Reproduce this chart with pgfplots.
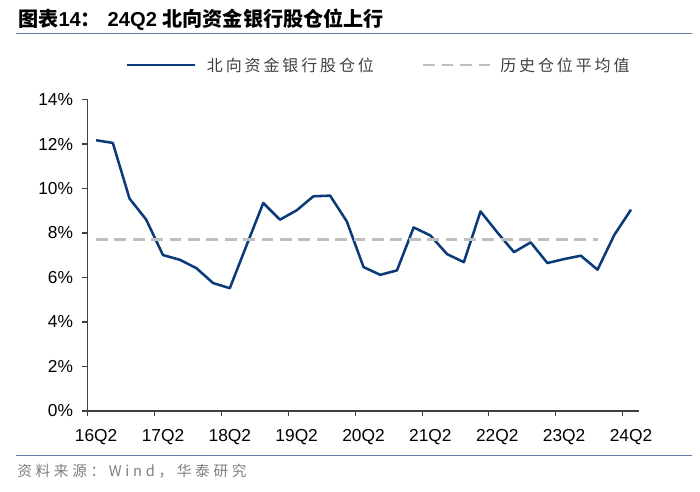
\documentclass[border=0pt]{standalone}
\usepackage{pgfplots}
\pgfplotsset{compat=1.18}
\usepackage{fontspec}
\setmainfont{Liberation Sans}
\newfontfamily\cjk{Noto Sans CJK SC}
\newfontfamily\cjkb{Noto Sans CJK SC Bold}
\newfontfamily\cjksp[LetterSpace=18]{Noto Sans CJK SC}
\newfontfamily\cjksrc[LetterSpace=25]{Noto Sans CJK SC}

\definecolor{navy}{HTML}{0B3A78}
\definecolor{avggray}{HTML}{BFBFBF}
\definecolor{axisgray}{HTML}{404040}
\definecolor{rulecol}{HTML}{5B7BA8}
\definecolor{srcgray}{HTML}{7F7F7F}

\begin{document}
\begin{tikzpicture}[x=1pt,y=1pt]
\path[use as bounding box] (0,0) rectangle (525,369);

% title
\node[anchor=west, inner sep=0] at (13.5,354)
  {\fontsize{15.1}{17}\selectfont\bfseries{\cjkb 图表}14{\cjkb ：}\hspace{5pt}24Q2 {\cjkb 北向资金银行股仓位上行}};
\draw[rulecol, line width=0.8pt] (12,344) -- (519,344);

% legend
\draw[navy, line width=1.9pt] (95,320.25) -- (146.25,320.25);
\node[anchor=west, inner sep=0, text=axisgray] at (155,320.25)
  {\fontsize{12}{14}\selectfont\cjksp 北向资金银行股仓位};
\draw[avggray, line width=1.9pt, dash pattern=on 8.8pt off 5pt] (317.5,320.25) -- (369,320.25);
\node[anchor=west, inner sep=0, text=axisgray] at (375,320.25)
  {\fontsize{12}{14}\selectfont\cjksp 历史仓位平均值};

\begin{axis}[
    at={(65.8pt,60.75pt)}, anchor=south west,
    scale only axis,
    width=413.7pt, height=233.6pt,
    xmin=-0.5, xmax=32.5,
    ymin=0, ymax=14,
    axis x line=bottom, axis y line=left,
    axis line style={-, draw=axisgray, line width=0.8pt},
    tick align=outside,
    major tick length=4pt,
    tick style={draw=axisgray, line width=0.8pt},
    xtick={-0.5,3.5,7.5,11.5,15.5,19.5,23.5,27.5,31.5},
    xticklabels={16Q2,17Q2,18Q2,19Q2,20Q2,21Q2,22Q2,23Q2,24Q2},
    xticklabel style={xshift=6.28pt, yshift=-6.5pt},
    ytick={0,2,4,6,8,10,12,14},
    yticklabels={0\%,2\%,4\%,6\%,8\%,10\%,12\%,14\%},
    yticklabel style={xshift=-3.5pt},
    ticklabel style={font=\fontsize{13}{15}\selectfont, text=black},
    clip=false,
]
\addplot[navy, line width=1.9pt, line join=round] coordinates {
(0,12.17)(1,12.05)(2,9.55)(3,8.60)(4,7.01)(5,6.80)(6,6.42)(7,5.75)(8,5.52)
(9,7.44)(10,9.35)(11,8.60)(12,9.02)(13,9.65)(14,9.68)(15,8.52)(16,6.47)
(17,6.12)(18,6.32)(19,8.25)(20,7.89)(21,7.05)(22,6.69)(23,8.97)(24,8.03)
(25,7.14)(26,7.58)(27,6.65)(28,6.83)(29,6.98)(30,6.35)(31,7.91)(32,9.05)
};
\addplot[avggray, line width=1.9pt, dash pattern=on 8.8pt off 5pt] coordinates {
(0,7.70)(30,7.70)
};
\end{axis}

% source
\draw[rulecol, line width=0.8pt] (12,27.2) -- (519,27.2);
\node[anchor=west, inner sep=0, text=srcgray] at (12.75,15.75)
  {\fontsize{11}{13}\selectfont\cjksrc 资料来源：Wind，华泰研究};
\end{tikzpicture}
\end{document}
